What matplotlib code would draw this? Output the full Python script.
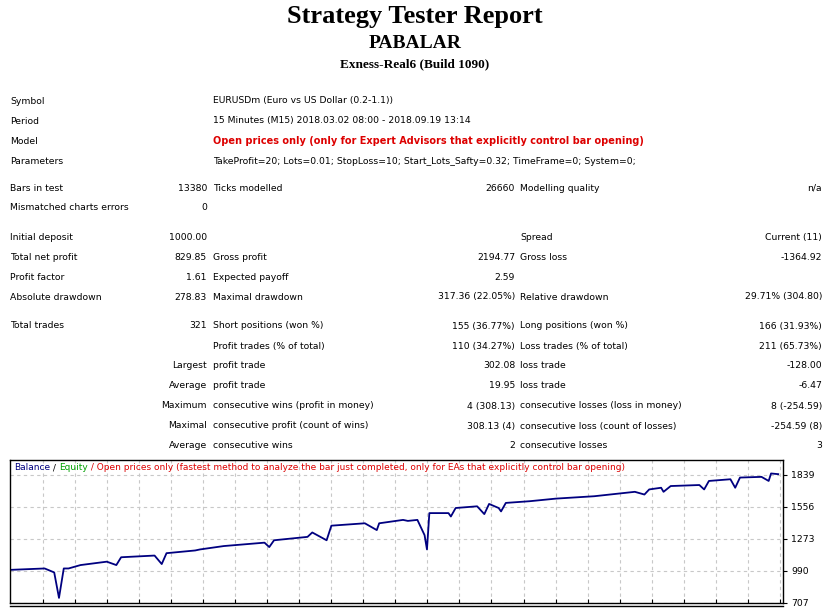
import matplotlib.pyplot as plt
import numpy as np

W, H = 829, 609

# header
title = 'Strategy Tester Report'
expert = 'PABALAR'
server = 'Exness-Real6 (Build 1090)'

# settings block: (label, value)
settings_labels = ['Symbol', 'Period', 'Model', 'Parameters']
settings_values = ['EURUSDm (Euro vs US Dollar (0.2-1.1))',
                   '15 Minutes (M15) 2018.03.02 08:00 - 2018.09.19 13:14',
                   'Open prices only (only for Expert Advisors that explicitly control bar opening)',
                   'TakeProfit=20; Lots=0.01; StopLoss=10; Start_Lots_Safty=0.32; TimeFrame=0; System=0;']
settings_y = [101, 121, 141, 161]

# stats rows: y, label1, value1, label2, value2, label3, value3
stats_rows = [
    (188, 'Bars in test', '13380', 'Ticks modelled', '26660', 'Modelling quality', 'n/a'),
    (208, 'Mismatched charts errors', '0', '', '', '', ''),
    (237, 'Initial deposit', '1000.00', '', '', 'Spread', 'Current (11)'),
    (257, 'Total net profit', '829.85', 'Gross profit', '2194.77', 'Gross loss', '-1364.92'),
    (277, 'Profit factor', '1.61', 'Expected payoff', '2.59', '', ''),
    (297, 'Absolute drawdown', '278.83', 'Maximal drawdown', '317.36 (22.05%)', 'Relative drawdown', '29.71% (304.80)'),
    (326, 'Total trades', '321', 'Short positions (won %)', '155 (36.77%)', 'Long positions (won %)', '166 (31.93%)'),
    (346, '', '', 'Profit trades (% of total)', '110 (34.27%)', 'Loss trades (% of total)', '211 (65.73%)'),
    (366, '', 'Largest', 'profit trade', '302.08', 'loss trade', '-128.00'),
    (386, '', 'Average', 'profit trade', '19.95', 'loss trade', '-6.47'),
    (406, '', 'Maximum', 'consecutive wins (profit in money)', '4 (308.13)', 'consecutive losses (loss in money)', '8 (-254.59)'),
    (426, '', 'Maximal', 'consecutive profit (count of wins)', '308.13 (4)', 'consecutive loss (count of losses)', '-254.59 (8)'),
    (446, '', 'Average', 'consecutive wins', '2', 'consecutive losses', '3'),
]

# balance curve (trade number, balance)
trade_no = [0, 14, 18, 20, 22, 24, 29, 40, 44, 46, 60, 63, 65, 77, 79, 89, 106, 108, 110,
            124, 126, 132, 134, 148, 153, 154, 164, 166, 170, 173, 174, 175, 183, 184, 186,
            195, 198, 200, 204, 205, 207, 217, 228, 244, 261, 265, 267, 272, 273, 276, 288,
            290, 292, 301, 303, 305, 314, 317, 318, 321]
balance = [1000, 1012, 977, 752, 1012, 1012, 1042, 1072, 1042, 1111, 1126, 1051, 1147, 1171,
           1180, 1210, 1240, 1201, 1261, 1291, 1330, 1261, 1390, 1411, 1351, 1411, 1441, 1432,
           1441, 1306, 1180, 1501, 1501, 1471, 1546, 1561, 1492, 1582, 1546, 1516, 1591, 1606,
           1629, 1650, 1689, 1665, 1710, 1725, 1689, 1740, 1749, 1710, 1785, 1800, 1725, 1815,
           1821, 1785, 1851, 1845]
y_ticks = [707, 990, 1273, 1556, 1839]

fig = plt.figure(figsize=(W / 100, H / 100), dpi=100)


def txt(x, y, s, **kw):
    kw.setdefault('fontsize', 6.7)
    kw.setdefault('va', 'center')
    return fig.text(x / W, 1 - y / H, s, **kw)


txt(415, 16, title, ha='center', fontsize=19, fontweight='bold', family='Liberation Serif')
txt(415, 43, expert, ha='center', fontsize=14, fontweight='bold', family='Liberation Serif')
txt(415, 64, server, ha='center', fontsize=9.5, fontweight='bold', family='Liberation Serif')

for lab, val, y in zip(settings_labels, settings_values, settings_y):
    txt(10, y, lab)
    if lab == 'Model':
        txt(213, y, val, color='#dd0000', fontweight='bold', fontsize=7)
    else:
        txt(213, y, val)

for y, l1, v1, l2, v2, l3, v3 in stats_rows:
    txt(10, y, l1)
    txt(207, y, v1, ha='right')
    txt(213, y, l2)
    txt(515, y, v2, ha='right')
    txt(520, y, l3)
    txt(822, y, v3, ha='right')

# chart
ax = fig.add_axes([10 / W, (H - 603) / H, 773 / W, 143 / H])
ax.plot(trade_no, balance, color='#000080', lw=1.3)
ax.set_xlim(-0.5, 323)
ax.set_ylim(707, 1970)
ax.set_yticks(y_ticks)
ax.yaxis.tick_right()
ax.set_xticks(np.arange(13.4, 323, 13.4))
ax.set_xticklabels([])
ax.tick_params(axis='x', direction='in', length=3)
ax.tick_params(axis='y', length=3, labelsize=6.7, pad=3)
ax.grid(True, ls=(0, (3, 3)), color='#c8c8c8', lw=0.8)
for s in ax.spines.values():
    s.set_linewidth(1)

# legend line built from pieces placed one after another
pieces = [('Balance', '#000080'), (' / ', 'black'), ('Equity', '#00a000'),
          (' / Open prices only (fastest method to analyze the bar just completed, only for EAs that explicitly control bar opening)', '#dd0000')]
renderer = fig.canvas.get_renderer()
xpos = 14
for s, c in pieces:
    t = txt(xpos, 468, s, color=c, fontsize=6.5)
    xpos += t.get_window_extent(renderer).width

# start of next box at bottom
fig.add_artist(plt.Line2D([10 / W, 783 / W], [(H - 606) / H] * 2, color='black', lw=1))

fig.savefig('out.png', dpi=100)
